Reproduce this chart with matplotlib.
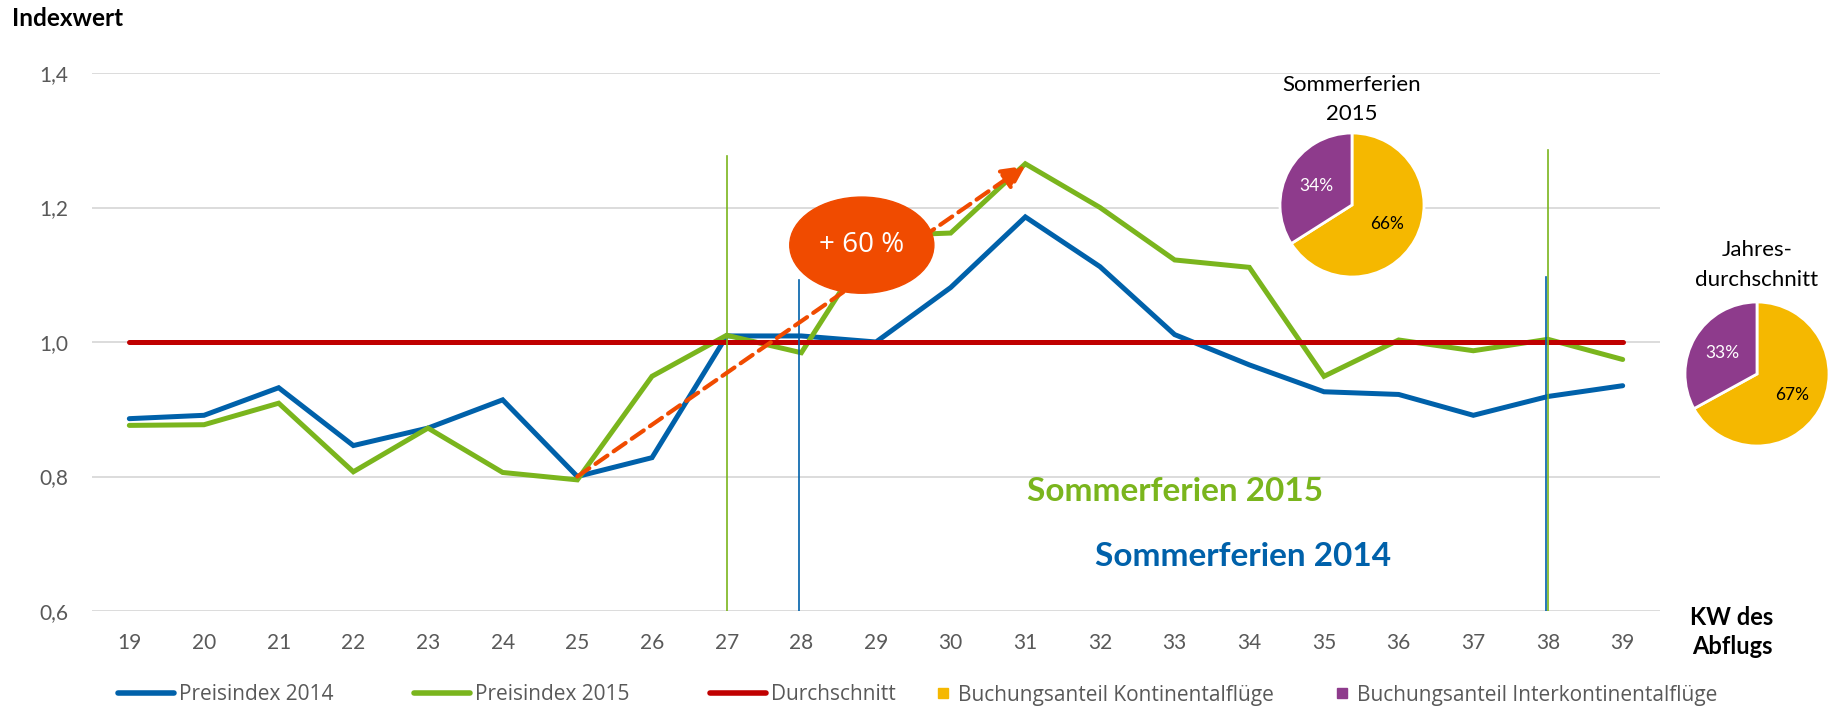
import matplotlib
matplotlib.use('Agg')
from matplotlib import pyplot as plt
from matplotlib.patches import Ellipse
from matplotlib.lines import Line2D
from matplotlib.ticker import FuncFormatter

# --- data ---
weeks = list(range(19, 40))
preis_2014 = [0.886, 0.891, 0.932, 0.846, 0.872, 0.914, 0.800, 0.828, 1.009, 1.009, 1.000,
              1.081, 1.186, 1.112, 1.011, 0.966, 0.926, 0.922, 0.891, 0.919, 0.935]
preis_2015 = [0.876, 0.877, 0.909, 0.807, 0.872, 0.806, 0.795, 0.949, 1.010, 0.984, 1.158,
              1.162, 1.265, 1.200, 1.122, 1.111, 0.949, 1.003, 0.987, 1.004, 0.974]
durchschnitt = [1.0] * len(weeks)

# summer holiday markers (week, top of line)
ferien_2015 = [(27, 1.276), (38, 1.285)]
ferien_2014 = [(28, 1.092), (38, 1.096)]

# +60% arrow: from week 25 to week 31 of 2015
arrow_start = (25, 0.800)
arrow_end = (31, 1.262)
bubble_center = (28.81, 1.144)
bubble_text = '+ 60 %'

pie_labels = ['Buchungsanteil Kontinentalflüge', 'Buchungsanteil Interkontinentalflüge']
share_sommer_2015 = [66, 34]
share_jahr = [67, 33]

yticks = [0.6, 0.8, 1.0, 1.2, 1.4]

c_blue = '#0061AA'
c_green = '#7AB51D'
c_red = '#C00000'
c_orange = '#F04B00'
c_yellow = '#F5B800'
c_purple = '#8E3B8C'
c_grid = '#D9D9D9'
c_text = '#595959'

W, H = 1845, 721
fig = plt.figure(figsize=(W / 100, H / 100), dpi=100)
ax = fig.add_axes([92 / W, 1 - 611 / H, (1660 - 92) / W, (611 - 73) / H])

ax.plot(weeks, preis_2014, color=c_blue, lw=3.6, solid_capstyle='round', solid_joinstyle='miter', zorder=3)
ax.plot(weeks, preis_2015, color=c_green, lw=3.6, solid_capstyle='round', solid_joinstyle='miter', zorder=3.1)
ax.plot(weeks, durchschnitt, color=c_red, lw=3.6, solid_capstyle='round', zorder=3.2)

for wk, top in ferien_2015:
    ax.plot([wk, wk], [yticks[0], top], color=c_green, lw=1.2, zorder=4)
for wk, top in ferien_2014:
    ax.plot([wk - 0.03, wk - 0.03], [yticks[0], top], color=c_blue, lw=1.2, zorder=4)

ax.annotate('', xy=arrow_end, xytext=arrow_start,
            arrowprops=dict(arrowstyle='-|>,head_length=0.7,head_width=0.35', color=c_orange,
                            lw=3, ls=(0, (3.5, 1.8)), shrinkA=0, shrinkB=0, mutation_scale=20),
            zorder=5)
ax.add_patch(Ellipse(bubble_center, 1.93, 0.143, color=c_orange, zorder=6))
ax.text(bubble_center[0], bubble_center[1], bubble_text, color='white', fontsize=20,
        family='Open Sans', ha='center', va='center', zorder=7)

ax.text(33.01, 0.777, 'Sommerferien 2015', color=c_green, fontsize=24, fontweight='bold',
        family='Lato', ha='center', va='center')
ax.text(33.91, 0.681, 'Sommerferien 2014', color=c_blue, fontsize=24, fontweight='bold',
        family='Lato', ha='center', va='center')

ax.set_xlim(18.5, 39.5)
ax.set_ylim(yticks[0], yticks[-1])
ax.set_xticks(weeks)
ax.set_yticks(yticks)
ax.yaxis.set_major_formatter(FuncFormatter(lambda v, p: ('%.1f' % v).replace('.', ',')))
ax.grid(axis='y', color=c_grid, lw=1.3, zorder=0)
ax.set_axisbelow(True)
for s in ax.spines.values():
    s.set_visible(False)
ax.tick_params(axis='both', length=0, labelsize=15, labelcolor=c_text)
ax.tick_params(axis='x', pad=15.5)
ax.tick_params(axis='y', pad=17)
for lbl in ax.get_xticklabels() + ax.get_yticklabels():
    lbl.set_family('Lato')

fig.text(12 / W, 1 - 19 / H, 'Indexwert', fontsize=17.5, fontweight='bold', family='Lato',
         ha='left', va='center')
fig.text(1732 / W, 1 - 632 / H, 'KW des\nAbflugs', fontsize=17, fontweight='bold', family='Lato',
         ha='center', va='center', linespacing=1.34)


def draw_pie(cx, cy, r, shares, title, title_off):
    side = 2 * r * 1.02
    pax = fig.add_axes([(cx - side / 2) / W, 1 - (cy + side / 2) / H, side / W, side / H])
    wedges, texts, autotexts = pax.pie(shares, colors=[c_yellow, c_purple], startangle=90,
                                       counterclock=False, autopct='%.0f%%', pctdistance=0.56,
                                       wedgeprops=dict(edgecolor='white', linewidth=2),
                                       textprops=dict(fontsize=12.5, family='Lato'))
    autotexts[0].set_color('black')
    autotexts[1].set_color('white')
    pax.set_xlim(-1.02, 1.02)
    pax.set_ylim(-1.02, 1.02)
    pax.annotate(title, xy=(0.5, 1), xycoords='axes fraction', xytext=(0, title_off),
                 textcoords='offset points', ha='center', va='center', fontsize=16,
                 family='Lato', linespacing=1.6)


draw_pie(1352, 205, 72, share_sommer_2015, 'Sommerferien\n2015', 23)
draw_pie(1757, 374, 72, share_jahr, 'Jahres-\ndurchschnitt', 25.5)

line_handles = [Line2D([], [], color=c, lw=4, solid_capstyle='round') for c in (c_blue, c_green, c_red)]
fig.legend(line_handles, ['Preisindex 2014', 'Preisindex 2015', 'Durchschnitt'],
           loc='center left', bbox_to_anchor=(118 / W, 1 - 695 / H), ncol=3, frameon=False,
           prop=dict(family='Open Sans', size=15), labelcolor=c_text, handlelength=2.69,
           handletextpad=0.24, columnspacing=3.87, borderpad=0, borderaxespad=0)
sq_handles = [Line2D([], [], ls='', marker='s', markersize=6.5, color=c) for c in (c_yellow, c_purple)]
fig.legend(sq_handles, pie_labels,
           loc='center left', bbox_to_anchor=(937 / W, 1 - 695 / H), ncol=2, frameon=False,
           prop=dict(family='Open Sans', size=15), labelcolor=c_text, handlelength=0.6,
           handletextpad=0.42, columnspacing=2.96, borderpad=0, borderaxespad=0)

fig.savefig('out.png', dpi=100)
